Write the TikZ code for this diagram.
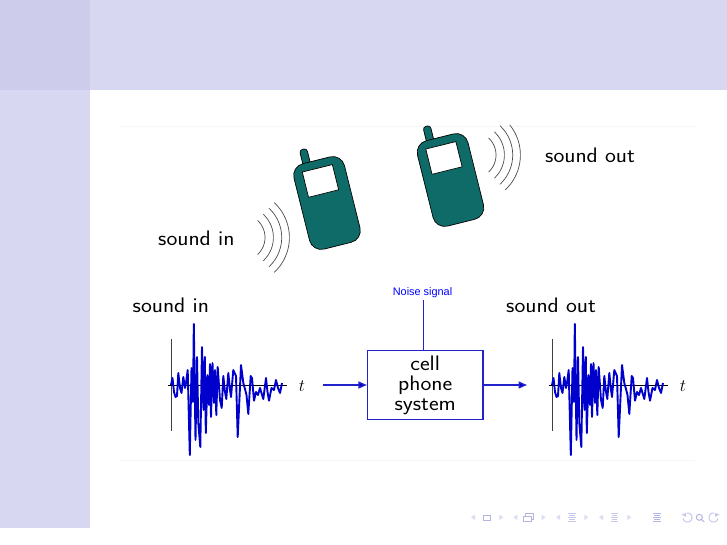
\documentclass[tikz,border=0pt]{standalone}
\usepackage{fontspec}
\newfontfamily\helv{Liberation Sans}
\newfontfamily\widesf[FakeStretch=1.1]{Latin Modern Sans}
\usetikzlibrary{arrows.meta}
\definecolor{barc}{HTML}{D7D7F1}
\definecolor{cornerc}{HTML}{CDCDEB}
\definecolor{tealc}{HTML}{0F6B68}
\definecolor{sigc}{HTML}{0000CC}
\definecolor{boxc}{HTML}{2222CC}
\definecolor{navd}{HTML}{B4B4E2}
\definecolor{navm}{HTML}{C8C8EA}
\definecolor{navl}{HTML}{DCDCF3}
\definecolor{faint}{HTML}{F6F6F6}
\newcommand{\bigsf}{\widesf\fontsize{21}{20}\selectfont}
\tikzset{
  x=1pt,y=-1pt,
  soundlabel/.style={font=\bigsf,text=black,inner sep=0pt,anchor=west},
  timelabel/.style={font=\fontsize{19}{19}\selectfont,inner sep=0pt},
  sysbox/.style={draw=boxc,line width=1.2pt,minimum width=115.5pt,minimum height=68.5pt,inner sep=0pt,align=center,font=\bigsf,text=black},
  flow/.style={draw=boxc,line width=1.3pt,-{Triangle[length=8.5pt,width=7pt,fill=sigc]}},
  arcw/.style={draw=black!70,line width=0.7pt},
  phone/.pic={
    \draw[fill=tealc,draw=black,line width=0.7pt,rounded corners=3pt] (-14,-40) rectangle (-6.5,-58);
    \draw[fill=tealc,draw=black,line width=0.7pt,rounded corners=12pt] (-26,-44) rectangle (26,44);
    \draw[fill=white,draw=black,line width=0.7pt] (-16.5,-36) rectangle (14.5,-10);
  },
  signal/.pic={
    \draw[black!75,line width=1pt] (171,339) -- (171,431);
    \draw[black,line width=1pt] (168,385) -- (287,385);
    \draw[sigc,line width=1.9pt,line join=round] plot coordinates {
    (171,385)(172.5,378)(174,392)(175.5,397)(177,396)(178.3,373)(180,388)(181.5,393)(183.3,377)(185,388)(186,383)(187.7,370)(189.8,455)(191.5,368)(193,402)(193.8,324)(195.5,440)(197,357)(198.3,423)(200.3,447)(202,347)(203.5,410)(204.8,357)(205.8,433)(207.5,375)(209,405)(210,364)(211,417)(212.5,363)(214,403)(215,370)(216.3,415)(217.7,367)(220,400)(221.7,408)(223.3,376)(225,392)(226.3,399)(228.3,373)(230,390)(231,397)(233.3,370)(236,376)(237.7,437)(241,365)(243.3,383)(245,389)(246.5,395)(248.3,414)(250.7,376)(252,378)(254,400.7)(256,392)(258,395)(260,388)(263.3,399)(266,378)(267.5,392)(269,400.7)(271.5,388)(274,390)(276,380)(278,388)(280,393)(282,383)
    };
  }
}
\begin{document}
\begin{tikzpicture}
\useasboundingbox (0,0) rectangle (727,545);
\fill[white] (0,0) rectangle (727,545);
\fill[barc] (0,0) rectangle (90,528);
\fill[barc] (90,0) rectangle (727,90);
\fill[cornerc] (0,0) rectangle (90,90);
\draw[faint,line width=0.6pt] (120,126.5) -- (695,126.5);
\draw[faint,line width=0.6pt] (120,460) -- (695,460);

\pic[rotate=14] at (327,203) {phone};
\pic[rotate=14] at (450.5,180) {phone};
\begin{scope}
\clip (120,126) rectangle (695,460);
\foreach \r in {23.3,31.7,40,47.7}{
  \draw[arcw] plot[domain=-47:47,samples=30,smooth] ({241.7+\r*cos(\x)},{237.5+\r*sin(\x)});
  \draw[arcw] plot[domain=-47:47,samples=30,smooth] ({472.7+\r*cos(\x)},{155+\r*sin(\x)});
}
\end{scope}

\node[soundlabel] (l1) at (158,238) {sound in};
\node[soundlabel] (l2) at (545,155) {sound out};
\node[soundlabel] (l3) at (132.5,305) {sound in};
\node[soundlabel] (l4) at (506,305) {sound out};

\pic at (0,0) {signal};
\pic at (381,0) {signal};
\node[timelabel] (t1) at (302,386) {$t$};
\node[timelabel] (t2) at (683,386) {$t$};

\node[sysbox] (sys) at (425.2,385) {\rule{0pt}{0pt}\raisebox{-1pt}{cell}\\\raisebox{-1pt}{phone}\\\raisebox{-1pt}{system}};
\node[inner sep=0pt,text=blue,font=\helv\fontsize{10.9}{10.9}\selectfont] (noise) at (422.5,293) {Noise signal};
\coordinate (in) at (323,385);
\coordinate (out) at (527,385);
\draw[boxc,line width=1.2pt] (noise.south -| 423.7,0) ++(0,2) -- (sys.north -| 423.7,0);
\draw[flow] (in) -- (sys.west);
\draw[flow] (sys.east) -- (out);

% navigation symbols
\foreach \x in {475,517.3,560,603}{\fill[navl] (\x-4,517.3) -- (\x,514.7) -- (\x,520) -- cycle;}
\foreach \x in {499.3,541.7,584.3,627.3}{\fill[navl] (\x+4,517.3) -- (\x,514.7) -- (\x,520) -- cycle;}
\draw[navd,line width=1pt] (483.5,515.5) rectangle (490.5,520.7);
\draw[navd,line width=1pt] (525.7,516) -- (525.7,513.6) -- (533.2,513.6) -- (533.2,519.2) -- (531.5,519.2);
\draw[navd,line width=1pt] (523.5,516) rectangle (531.5,521.5);
\foreach \xa/\c in {568.3/navm,611/navm,653.3/navd}{
  \foreach \yy/\i in {513.7/0,515.7/1,517.7/0,519.7/1,521.5/0}{
    \draw[\c,line width=0.8pt] (\xa+\i,\yy) -- (\xa+7.4-\i,\yy);
  }
}
\draw[navm,line width=1pt] plot[domain=-100:170,samples=30,smooth] ({687.5+4.5*cos(\x)},{517.5+4.5*sin(\x)});
\fill[navm] (681.5,514.5) -- (686,513) -- (686,517) -- cycle;
\draw[navd,line width=1pt] (699.3,517.3) circle[radius=3pt] (701.5,519.5) -- (704.3,522);
\draw[navm,line width=1pt] plot[domain=10:280,samples=30,smooth] ({713.5+4.5*cos(\x)},{517.5+4.5*sin(\x)});
\fill[navm] (719.5,514.5) -- (715,513) -- (715,517) -- cycle;
\end{tikzpicture}
\end{document}
